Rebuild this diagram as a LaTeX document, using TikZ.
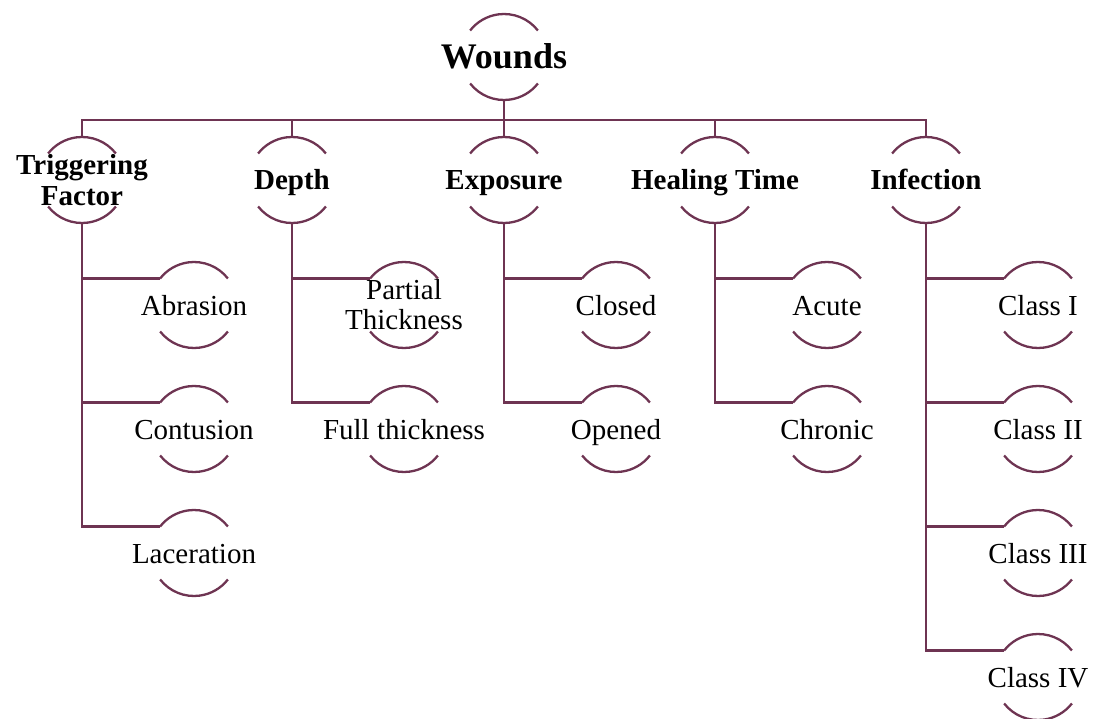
\documentclass[tikz,border=0pt]{standalone}
\usepackage{fontspec}
\setmainfont{Liberation Serif}
\usetikzlibrary{positioning}
\definecolor{plum}{RGB}{110,52,82}

\begin{document}
\begin{tikzpicture}[
  x=1pt, y=1pt,
  ring/.style={circle, minimum size=86pt, inner sep=0pt, outer sep=0pt},
  link/.style={draw=plum, line width=2.3pt},
  head/.style={font=\bfseries\fontsize{36}{40}\selectfont, text height=30pt, text depth=6pt},
  cat/.style={font=\bfseries\fontsize{29}{31}\selectfont, text height=24pt, text depth=4pt},
  cattwo/.style={font=\bfseries\fontsize{29}{31}\selectfont, align=center},
  leaf/.style={font=\fontsize{29}{30}\selectfont, text height=24pt, text depth=4pt},
  leaftwo/.style={font=\fontsize{29}{30}\selectfont, align=center}
]
\useasboundingbox (0,0) rectangle (1097,-719);

\node[ring, label={[head]center:Wounds}] (wounds) at (504,-57) {};

\node[ring, label={[cattwo]center:{Triggering\\Factor}}] (trig) at (82,-180) {};
\node[ring, label={[cat]center:Depth}] (depth) at (292,-180) {};
\node[ring, label={[cat]center:Exposure}] (expo) at (504,-180) {};
\node[ring, label={[cat]center:Healing Time}] (heal) at (715,-180) {};
\node[ring, label={[cat]center:Infection}] (infect) at (926,-180) {};

\node[ring, label={[leaf]center:Abrasion}] (abr) at (194,-305) {};
\node[ring, label={[leaf]center:Contusion}] (cont) at (194,-429) {};
\node[ring, label={[leaf]center:Laceration}] (lac) at (194,-553) {};

\node[ring, label={[leaftwo]center:{Partial\\Thickness}}] (partial) at (404,-305) {};
\node[ring, label={[leaf]center:Full thickness}] (full) at (404,-429) {};

\node[ring, label={[leaf]center:Closed}] (closed) at (616,-305) {};
\node[ring, label={[leaf]center:Opened}] (opened) at (616,-429) {};

\node[ring, label={[leaf]center:Acute}] (acute) at (827,-305) {};
\node[ring, label={[leaf]center:Chronic}] (chronic) at (827,-429) {};

\node[ring, label={[leaf]center:Class I}] (cone) at (1038,-305) {};
\node[ring, label={[leaf]center:Class II}] (ctwo) at (1038,-429) {};
\node[ring, label={[leaf]center:Class III}] (cthree) at (1038,-553) {};
\node[ring, label={[leaf]center:Class IV}] (cfour) at (1038,-677) {};

% upper and lower rims
\foreach \n in {wounds,trig,depth,expo,heal,infect,abr,cont,lac,partial,full,closed,opened,acute,chronic,cone,ctwo,cthree,cfour}
  \draw[link] (\n.38) arc[start angle=38, end angle=142, radius=43pt]
              (\n.218) arc[start angle=218, end angle=322, radius=43pt];

% bus to the categories
\coordinate (bus) at (504,-120);
\draw[link] (wounds.south) -- (bus);
\draw[link] (trig.north) |- (bus) -| (infect.north);
\foreach \n in {depth,expo,heal}
  \draw[link] (\n.north) -- (\n.north |- bus);

% categories to their kinds
\foreach \p/\c in {trig/abr,trig/cont,trig/lac,depth/partial,depth/full,expo/closed,expo/opened,heal/acute,heal/chronic,infect/cone,infect/ctwo,infect/cthree,infect/cfour}
  \draw[link] (\p.south) |- (\c.142);

\end{tikzpicture}
\end{document}
